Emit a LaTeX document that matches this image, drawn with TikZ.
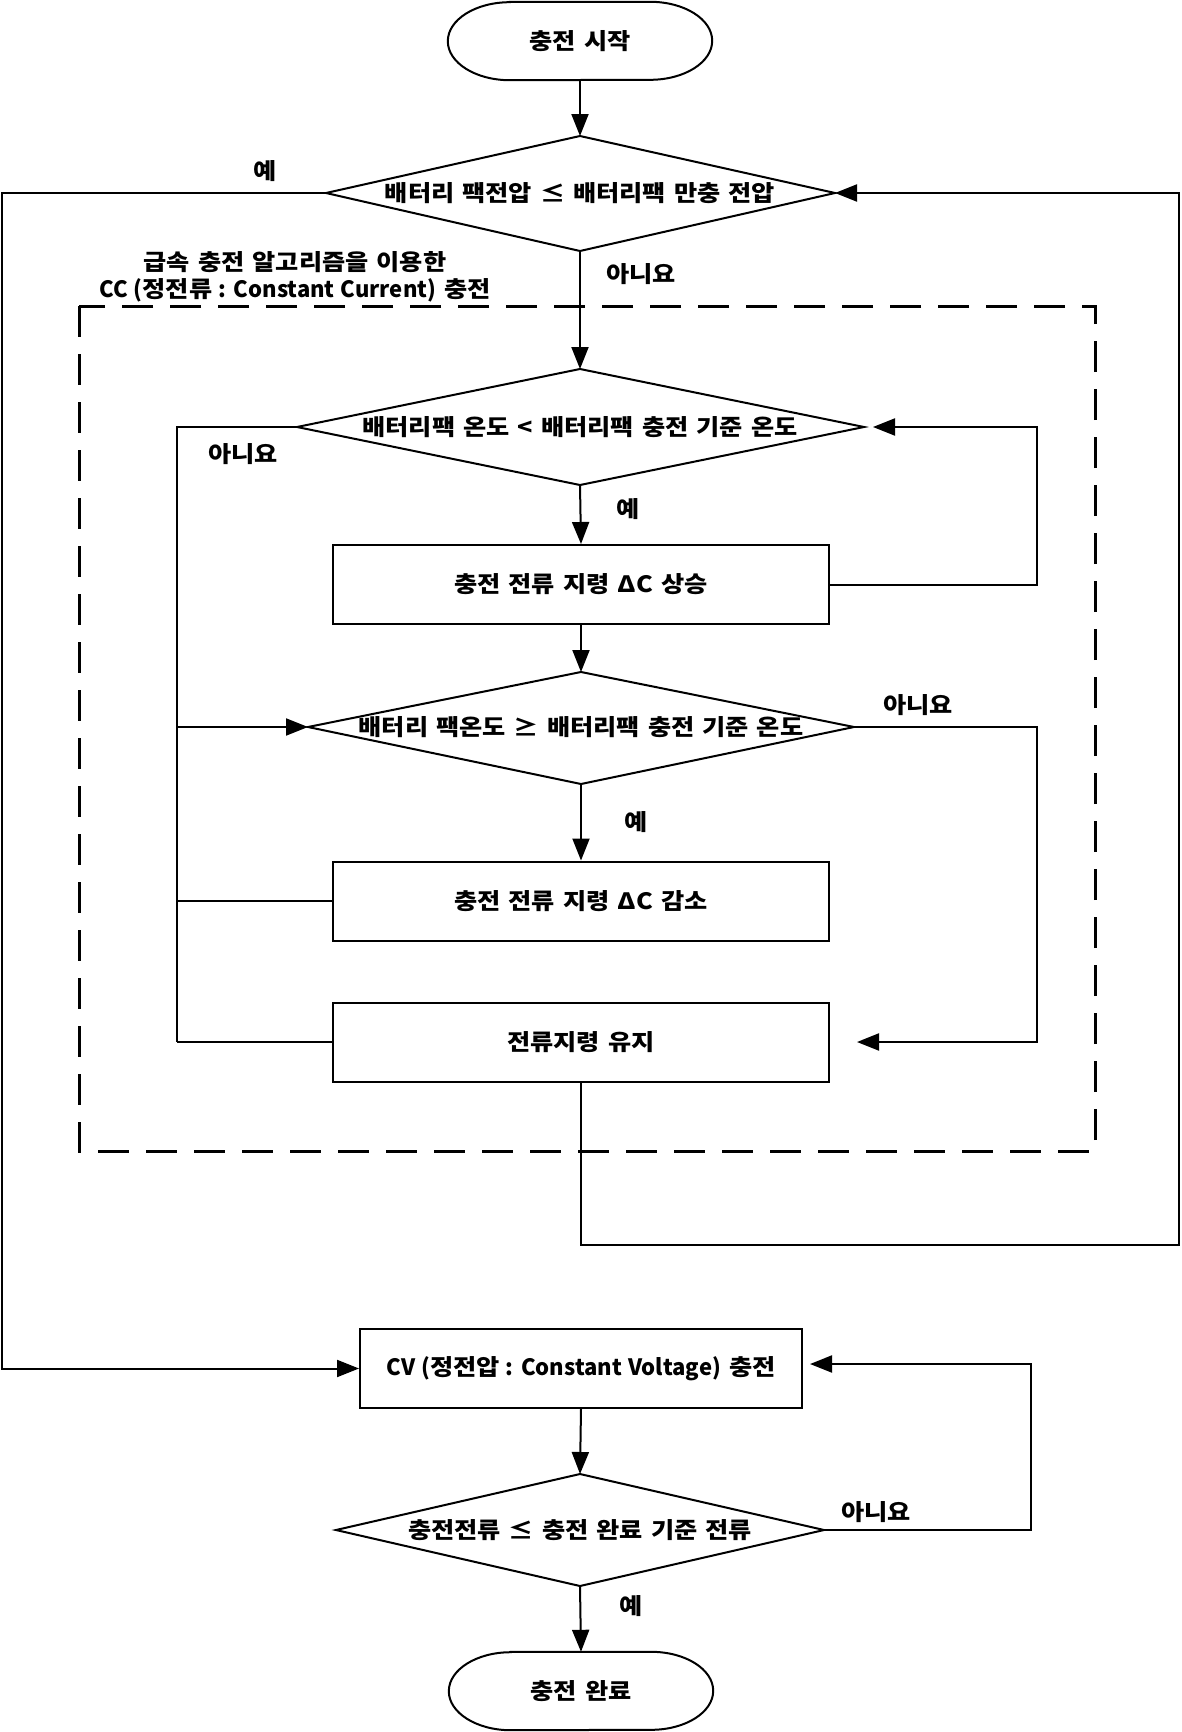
\documentclass[tikz,border=0pt]{standalone}
\usepackage{fontspec}
\setmainfont{Noto Sans CJK KR}[FakeStretch=1.12, WordSpace=1.4]
\newfontfamily\latn{Noto Sans CJK KR}[FakeStretch=0.98, WordSpace=1.2]
\usetikzlibrary{arrows.meta}
\tikzset{
  conn/.style={line width=2pt, draw=black},
  arr/.style={conn, -{Triangle[length=22pt,width=17pt]}},
  txt/.style={font=\fontsize{22.5pt}{27pt}\selectfont\bfseries, inner sep=0pt},
  procbox/.style={draw, line width=2pt, minimum width=496pt, minimum height=79pt, txt},
  termbox/.style={minimum width=264pt, minimum height=78pt, txt},
  groupbox/.style={line width=3pt, dash pattern=on 31pt off 17pt},
}
\begin{document}
\begin{tikzpicture}[x=1pt,y=-1pt]
\useasboundingbox (0,0) rectangle (1181,1732);

% start terminal
\node[termbox] (start) at (580,41) {충전 시작};
\draw[conn] ([xshift=62pt]start.north west) -- ([xshift=-62pt]start.north east)
  arc[start angle=90,end angle=-90,x radius=62pt,y radius=39pt]
  -- ([xshift=62pt]start.south west)
  arc[start angle=270,end angle=90,x radius=62pt,y radius=39pt] -- cycle;

% decision 1
\node[txt] (d1) at (580,193) {배터리 팩전압 ≤ 배터리팩 만충 전압};
\coordinate (d1t) at (580,136); \coordinate (d1b) at (580,251);
\coordinate (d1l) at (326,193); \coordinate (d1r) at (835,193);
\draw[conn] (d1t) -- (d1r) -- (d1b) -- (d1l) -- cycle;

% group box
\draw[groupbox] (79,306) rectangle (1095,1151);
\node[txt, align=center] (gtitle) at (295,277) {급속 충전 알고리즘을 이용한\\{\latn CC (}정전류{\latn\ : Constant Current)} 충전};

% decision 2
\node[txt] (d2) at (580,427) {배터리팩 온도 < 배터리팩 충전 기준 온도};
\coordinate (d2t) at (580,369); \coordinate (d2b) at (580,485);
\coordinate (d2l) at (297,427); \coordinate (d2r) at (864,427);
\draw[conn] (d2t) -- (d2r) -- (d2b) -- (d2l) -- cycle;

% box 1
\node[procbox] (b1) at (581,584.5) {충전 전류 지령 ΔC 상승};

% decision 3
\node[txt] (d3) at (581,727) {배터리 팩온도 ≥ 배터리팩 충전 기준 온도};
\coordinate (d3t) at (581,672); \coordinate (d3b) at (581,784);
\coordinate (d3l) at (308,727); \coordinate (d3r) at (854,727);
\draw[conn] (d3t) -- (d3r) -- (d3b) -- (d3l) -- cycle;

% boxes 2, 3
\node[procbox] (b2) at (581,901) {충전 전류 지령 ΔC 감소};
\node[procbox] (b3) at (581,1042) {전류지령 유지};

% CV box
\node[draw, line width=2pt, minimum width=442pt, minimum height=79pt, txt] (cv) at (581,1368.5) {{\latn CV (}정전압{\latn\ : Constant Voltage)} 충전};

% decision 4
\node[txt] (d4) at (580,1530) {충전전류 ≤ 충전 완료 기준 전류};
\coordinate (d4t) at (580,1474); \coordinate (d4b) at (580,1586);
\coordinate (d4l) at (336,1530); \coordinate (d4r) at (824,1530);
\draw[conn] (d4t) -- (d4r) -- (d4b) -- (d4l) -- cycle;

% end terminal
\node[termbox] (end) at (581,1691) {충전 완료};
\draw[conn] ([xshift=62pt]end.north west) -- ([xshift=-62pt]end.north east)
  arc[start angle=90,end angle=-90,x radius=62pt,y radius=39pt]
  -- ([xshift=62pt]end.south west)
  arc[start angle=270,end angle=90,x radius=62pt,y radius=39pt] -- cycle;

% helper coordinates
\coordinate (L1) at (2,193);
\coordinate (L2b) at (177,1042);
\coordinate (R1) at (1037,427);
\coordinate (R2) at (1037,1042);
\coordinate (R3) at (1179,1245);
\coordinate (R4) at (1031,1364);

% connectors
\draw[arr] (start.south) -- (d1t);
\draw[arr] (d1b) -- (d2t);
\draw[arr] (d1l) -- (L1) |- (cv.west);
\draw[conn] (d2l) -| (L2b);
\draw[conn] (b2.west) -- (b2.west -| L2b);
\draw[conn] (b3.west) -- (L2b);
\draw[arr] (d3l -| L2b) -- (d3l);
\draw[arr] (d2b) -- (b1.north);
\draw[arr, shorten >=9pt] (b1.east) -| (R1) -- (d2r);
\draw[arr] (b1.south) -- (d3t);
\draw[arr] (d3b) -- (b2.north);
\draw[arr, shorten >=27pt] (d3r) -| (R2) -- (b3.east);
\draw[arr] (b3.south) |- (R3) |- (d1r);
\draw[arr] (cv.south) -- (d4t);
\draw[arr, shorten >=7pt] (d4r) -| (R4) -- (cv.east |- R4);
\draw[arr] (d4b) -- (end.north);

% labels
\node[txt] (y1) at (265,171) {예};
\node[txt] (n1) at (641,274) {아니요};
\node[txt] (n2) at (243,454) {아니요};
\node[txt] (y2) at (628,509) {예};
\node[txt] (n3) at (918,705) {아니요};
\node[txt] (y3) at (636,822) {예};
\node[txt] (n4) at (876,1512) {아니요};
\node[txt] (y4) at (631,1606) {예};
\end{tikzpicture}
\end{document}
